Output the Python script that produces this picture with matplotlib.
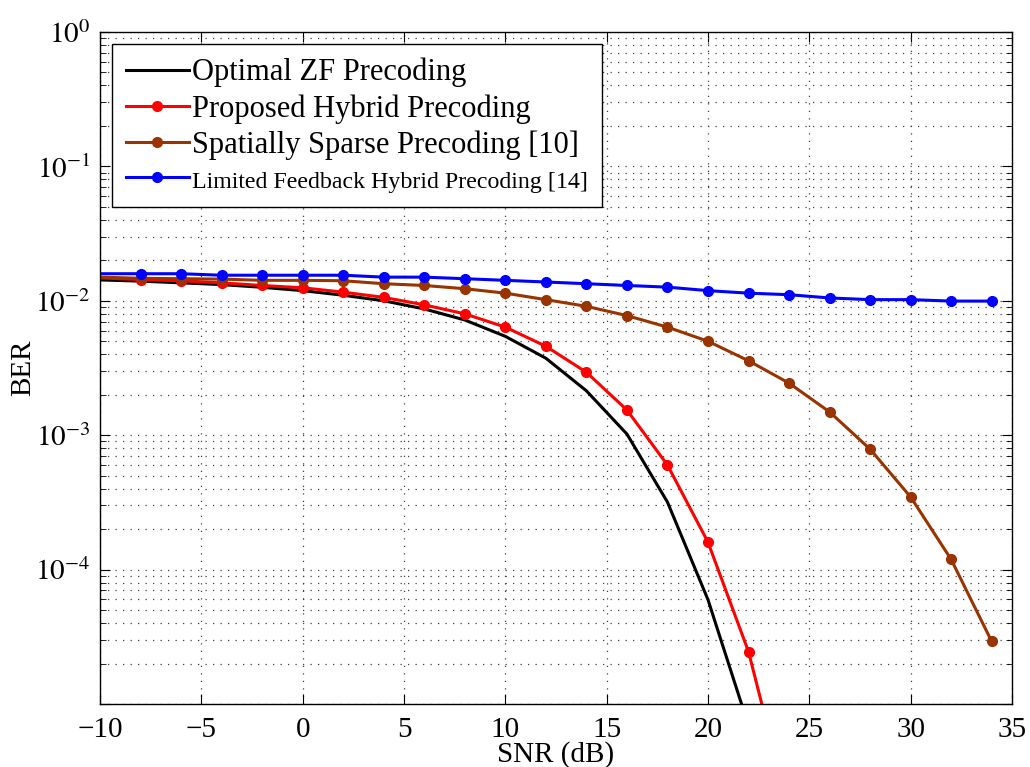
import numpy as np
import matplotlib
matplotlib.use("Agg")
import matplotlib.pyplot as plt
from matplotlib.ticker import LogLocator, MultipleLocator, NullFormatter

plt.rcParams['font.family'] = ['Liberation Serif', 'DejaVu Serif']
plt.rcParams['mathtext.fontset'] = 'stix'

# SNR points (dB)
snr = np.arange(-10, 36, 2)
snr_zf = np.arange(-10, 26, 2)

# BER values
ber_zf = [0.0143, 0.0140, 0.0136, 0.0132, 0.0126, 0.0119, 0.0110, 0.0100,
          0.0087, 0.0072, 0.00544, 0.00374, 0.00214, 0.00102, 0.000318,
          5.97e-5, 6.9e-6, 5e-7]
ber_prop = [0.0148, 0.0144, 0.0141, 0.0136, 0.0130, 0.0125, 0.0116, 0.0106,
            0.00933, 0.0080, 0.00637, 0.00459, 0.00294, 0.00154, 0.000600,
            0.000160, 2.45e-5, 1.6e-6, 1e-7, 1e-8, 1e-9, 1e-10, 1e-11]
ber_sparse = [0.0150, 0.0147, 0.0146, 0.0145, 0.0142, 0.0142, 0.0141, 0.0134,
              0.0130, 0.0123, 0.0114, 0.0102, 0.0091, 0.00776, 0.00637,
              0.0050, 0.00358, 0.00244, 0.00149, 0.000787, 0.000347,
              0.000119, 2.92e-5]
ber_lf = [0.0159, 0.0159, 0.0159, 0.0155, 0.0155, 0.0155, 0.0155, 0.0150,
          0.0150, 0.0146, 0.0142, 0.0138, 0.0134, 0.0130, 0.01264, 0.0119,
          0.0114, 0.0111, 0.0105, 0.0102, 0.0102, 0.00995, 0.00995]

labels = ['Optimal ZF Precoding', 'Proposed Hybrid Precoding',
          'Spatially Sparse Precoding [10]',
          'Limited Feedback Hybrid Precoding [14]']

fig = plt.figure(figsize=(10.30, 7.67), dpi=100)
ax = fig.add_axes([0.0971, 0.0821, 0.8854, 0.8762])

lw = 2.2
ms = 7
mk = range(1, len(snr))  # first point sits on the axis edge, no marker there
ax.semilogy(snr_zf, ber_zf, '-', color='black', lw=lw, label=labels[0])
ax.semilogy(snr, ber_prop, '-o', color='red', lw=lw, ms=ms, markevery=mk, label=labels[1])
ax.semilogy(snr, ber_sparse, '-o', color='#993300', lw=lw, ms=ms, markevery=mk, label=labels[2])
ax.semilogy(snr, ber_lf, '-o', color='blue', lw=lw, ms=ms, markevery=mk, label=labels[3])

ax.set_xlim(-10, 35)
ax.set_ylim(1e-5, 1)
ax.xaxis.set_major_locator(MultipleLocator(5))
ax.yaxis.set_minor_locator(LogLocator(base=10, subs=np.arange(2, 10), numticks=10))
ax.yaxis.set_minor_formatter(NullFormatter())
ax.set_yticks([1e-5, 1e-4, 1e-3, 1e-2, 1e-1, 1e0])
ax.set_yticklabels(['', r'$10^{-4}$', r'$10^{-3}$', r'$10^{-2}$', r'$10^{-1}$', r'$10^{0}$'])

ax.tick_params(which='both', direction='in', top=True, right=True, labelsize=21)
ax.tick_params(axis='x', pad=9)
ax.tick_params(axis='y', pad=7)
ax.tick_params(which='major', length=7)
ax.tick_params(which='minor', length=4)
dots = (0, (1, 5))
ax.grid(True, which='major', linestyle=dots, color='0.25', lw=0.9)
ax.grid(True, which='minor', axis='y', linestyle=dots, color='0.25', lw=0.9)
for s in ax.spines.values():
    s.set_linewidth(1.0)

ax.set_xlabel('SNR (dB)', fontsize=21)
ax.set_ylabel('BER', fontsize=21)
ax.xaxis.set_label_coords(0.5, -0.055)
ax.yaxis.set_label_coords(-0.07, 0.5)

leg = ax.legend(loc='upper left', fontsize=22, fancybox=False, framealpha=1,
                edgecolor='black', borderaxespad=0.4, handlelength=2.05,
                handletextpad=0.12, labelspacing=0.22, borderpad=0.45)
leg.get_frame().set_linewidth(1.0)
leg.get_texts()[3].set_fontsize(17.2)

fig.savefig('out.png', dpi=100)
